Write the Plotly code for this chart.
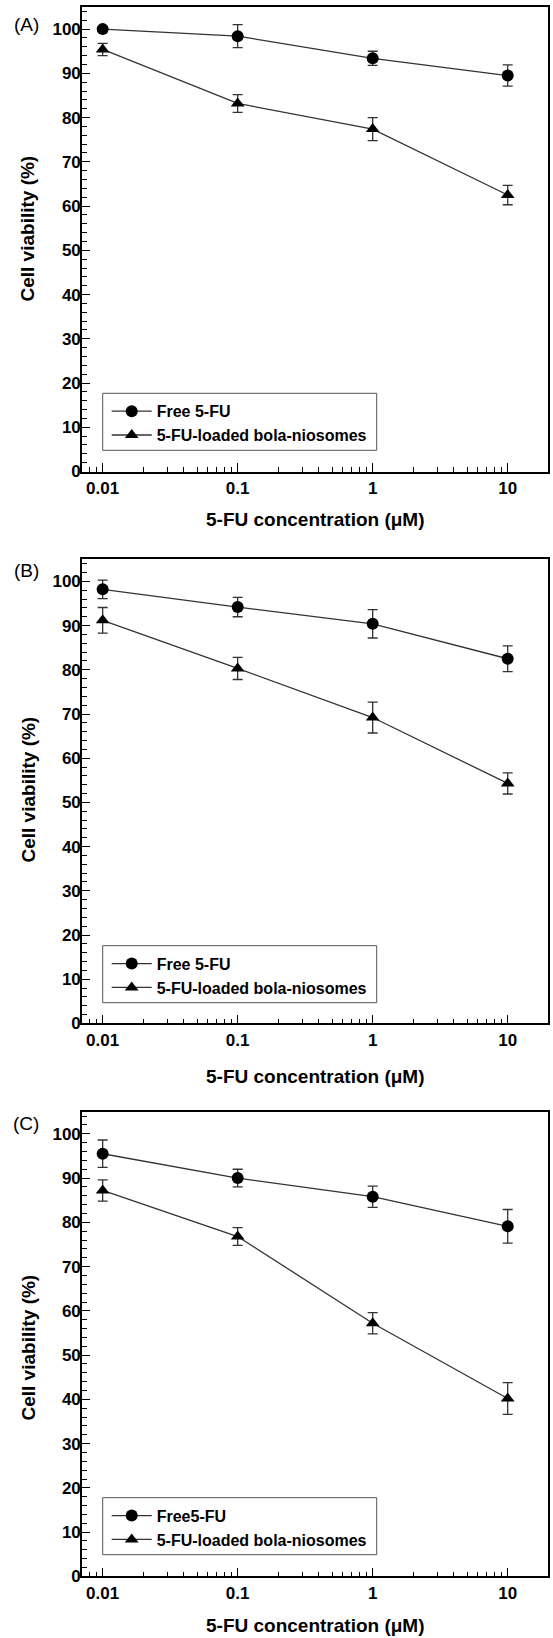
import plotly.graph_objects as go

# ---------------- data ----------------
conc = [0.01, 0.1, 1, 10]

a_free = [100.0, 98.4, 93.4, 89.5]
a_free_err = [0.6, 2.6, 1.6, 2.4]
a_bola = [95.4, 83.2, 77.4, 62.5]
a_bola_err = [1.4, 2.0, 2.6, 2.2]

b_free = [98.2, 94.2, 90.4, 82.5]
b_free_err = [2.1, 2.2, 3.2, 2.9]
b_bola = [91.2, 80.3, 69.2, 54.3]
b_bola_err = [2.9, 2.5, 3.5, 2.4]

c_free = [95.5, 90.0, 85.8, 79.1]
c_free_err = [3.1, 2.0, 2.4, 3.8]
c_bola = [87.2, 76.8, 57.2, 40.2]
c_bola_err = [2.4, 2.0, 2.4, 3.6]

panel_labels = ["(A)", "(B)", "(C)"]
free_names = ["Free 5-FU", "Free 5-FU", "Free5-FU"]
bola_name = "5-FU-loaded bola-niosomes"
x_title = "5-FU concentration (μM)"
y_title = "Cell viability (%)"

# ---------------- layout geometry (pixels) ----------------
W, H = 553, 1638


def px(x):
    return x / W


def py(y):
    return 1 - y / H


panels = [
    dict(top=7.0, bottom=471.5, lab_y=24.5, xt_y=519, yt_y=229, leg_top=393.3,
         free=a_free, free_err=a_free_err, bola=a_bola, bola_err=a_bola_err),
    dict(top=559.3, bottom=1023.4, lab_y=570, xt_y=1076, yt_y=790, leg_top=945.7,
         free=b_free, free_err=b_free_err, bola=b_bola, bola_err=b_bola_err),
    dict(top=1111.7, bottom=1576.4, lab_y=1123.3, xt_y=1625, yt_y=1348, leg_top=1497.7,
         free=c_free, free_err=c_free_err, bola=c_bola, bola_err=c_bola_err),
]

FONT = "Liberation Sans, Arial, sans-serif"
tick_font = dict(family=FONT, size=17, color="black", weight="bold")
LINE_C = "#333333"

fig = go.Figure()
layout = dict(
    width=W, height=H, autosize=False,
    margin=dict(l=0, r=0, t=0, b=0, pad=0),
    paper_bgcolor="white", plot_bgcolor="white",
    annotations=[], shapes=[],
)

for i, p in enumerate(panels):
    n = "" if i == 0 else str(i + 1)
    xa, ya = "x" + n, "y" + n
    leg = "legend" + n
    for vals, errs, name, sym, msize in [
        (p["free"], p["free_err"], free_names[i], "circle", 12),
        (p["bola"], p["bola_err"], bola_name, "triangle-up", 12),
    ]:
        fig.add_trace(go.Scatter(
            x=conc, y=vals, name=name, mode="lines+markers",
            xaxis=xa, yaxis=ya, legend=leg,
            line=dict(color=LINE_C, width=1.3),
            marker=dict(symbol=sym, size=msize, color="black"),
            error_y=dict(type="data", array=errs, visible=True,
                         color=LINE_C, thickness=1.3, width=5),
        ))

    layout["xaxis" + n] = dict(
        type="log", range=[-2.153, 1.2985], domain=[px(82), px(548)],
        anchor=ya, showline=True, linecolor="black", linewidth=1.6, mirror=True,
        ticks="inside", ticklen=9, tickwidth=1.3, tickcolor="black",
        tick0=0, dtick=1, showgrid=False, zeroline=False,
        minor=dict(ticks="inside", ticklen=5, tickwidth=1.1, tickcolor="black",
                   dtick="D1", showgrid=False),
        tickfont=tick_font, automargin=False,
    )
    layout["yaxis" + n] = dict(
        range=[0, 105], domain=[py(p["bottom"]), py(p["top"])],
        anchor=xa, showline=True, linecolor="black", linewidth=1.6, mirror=True,
        ticks="inside", ticklen=8, tickwidth=1.3, tickcolor="black",
        tick0=0, dtick=10, showgrid=False, zeroline=False,
        minor=dict(ticks="inside", ticklen=5, tickwidth=1.1, tickcolor="black",
                   dtick=2, showgrid=False),
        tickfont=tick_font, automargin=False, ticklabelstandoff=-4,
    )
    layout[leg] = dict(
        x=px(106.7), y=py(p["leg_top"] + 1), xanchor="left", yanchor="top",
        borderwidth=0, bgcolor="rgba(0,0,0,0)",
        font=dict(family=FONT, size=16, color="black", weight="bold"),
        tracegroupgap=0, itemwidth=40,
    )
    # legend frame
    layout["shapes"].append(dict(
        type="rect", xref="paper", yref="paper",
        x0=px(102.7), x1=px(376.7), y0=py(p["leg_top"] + 57), y1=py(p["leg_top"]),
        line=dict(color="#555555", width=1), fillcolor="white", layer="below",
    ))
    layout["annotations"] += [
        dict(text=panel_labels[i], x=px(26.3), y=py(p["lab_y"]), xref="paper", yref="paper",
             xanchor="center", yanchor="middle", showarrow=False,
             font=dict(family=FONT, size=19, color="black")),
        dict(text=x_title, x=px(315), y=py(p["xt_y"]), xref="paper", yref="paper",
             xanchor="center", yanchor="middle", showarrow=False,
             font=dict(family=FONT, size=19, color="black", weight="bold")),
        dict(text=y_title, x=px(27.5), y=py(p["yt_y"]), xref="paper", yref="paper",
             xanchor="center", yanchor="middle", showarrow=False, textangle=-90,
             font=dict(family=FONT, size=19, color="black", weight="bold")),
    ]

fig.update_layout(**layout)
fig.write_html(
    "out.html",
    config={"displayModeBar": False},
    post_script="document.body.style.margin='0';document.body.style.padding='0';",
)
